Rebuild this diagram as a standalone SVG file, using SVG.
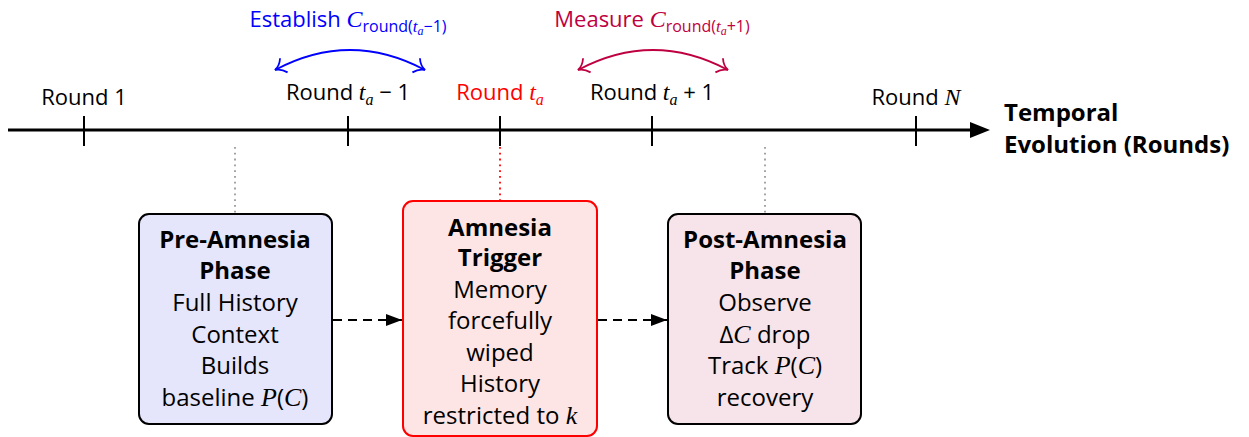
<svg xmlns="http://www.w3.org/2000/svg" width="1249" height="437" viewBox="0 0 1249 437">
  <style>
    text { font-family: "Open Sans", "Noto Sans", sans-serif; font-size: 22px; fill: #000; }
    .box text { font-size: 24px; }
    .c { text-anchor: middle; }
    .b { font-weight: bold; }
    .title { font-size: 24px; font-weight: bold; }
    .m { font-family: "Liberation Serif", serif; font-style: italic; font-size: 24px; }
    .box .m { font-size: 26px; }
    .sub { font-size: 16px; }
    .axis { stroke: #000; stroke-width: 3; fill: none; }
    .tick { stroke: #000; stroke-width: 2; }
    .dot { stroke: #999; stroke-width: 1.8; stroke-dasharray: 1.8 4; }
    .flow { stroke: #000; stroke-width: 2; stroke-dasharray: 9 6; fill: none; }
  </style>
  <defs>
    <marker id="axhead" markerWidth="20" markerHeight="16" refX="0" refY="8" orient="auto" markerUnits="userSpaceOnUse">
      <path d="M0,0 L20,8 L0,16 Z" fill="#000"/>
    </marker>
    <marker id="flowhead" markerWidth="16" markerHeight="12" refX="16" refY="6" orient="auto" markerUnits="userSpaceOnUse">
      <path d="M0,0 L16,6 L0,12 Z" fill="#000"/>
    </marker>
    <marker id="hookB" markerWidth="14" markerHeight="18" refX="11" refY="9" orient="auto" markerUnits="userSpaceOnUse">
      <path d="M1,1 Q5,7.5 11,9 Q5,10.5 1,17" fill="none" stroke="#0000ff" stroke-width="1.8"/>
    </marker>
    <marker id="hookBs" markerWidth="14" markerHeight="18" refX="11" refY="9" orient="auto-start-reverse" markerUnits="userSpaceOnUse">
      <path d="M1,1 Q5,7.5 11,9 Q5,10.5 1,17" fill="none" stroke="#0000ff" stroke-width="1.8"/>
    </marker>
    <marker id="hookP" markerWidth="14" markerHeight="18" refX="11" refY="9" orient="auto" markerUnits="userSpaceOnUse">
      <path d="M1,1 Q5,7.5 11,9 Q5,10.5 1,17" fill="none" stroke="#bf0040" stroke-width="1.8"/>
    </marker>
    <marker id="hookPs" markerWidth="14" markerHeight="18" refX="11" refY="9" orient="auto-start-reverse" markerUnits="userSpaceOnUse">
      <path d="M1,1 Q5,7.5 11,9 Q5,10.5 1,17" fill="none" stroke="#bf0040" stroke-width="1.8"/>
    </marker>
  </defs>

  <!-- time axis -->
  <g id="timeline">
    <line class="axis" x1="8" y1="130" x2="970" y2="130" marker-end="url(#axhead)"/>
    <line class="tick" x1="84" y1="116" x2="84" y2="146"/>
    <line class="tick" x1="348" y1="116" x2="348" y2="146"/>
    <line class="tick" x1="500" y1="116" x2="500" y2="146"/>
    <line class="tick" x1="652" y1="116" x2="652" y2="146"/>
    <line class="tick" x1="916" y1="116" x2="916" y2="146"/>
    <text class="c" x="84" y="105">Round 1</text>
    <text class="c" x="348" y="100">Round <tspan class="m">t</tspan><tspan class="m sub" dy="5">a</tspan><tspan dy="-5"> − 1</tspan></text>
    <text class="c" x="500" y="100" style="fill:#ff0000">Round <tspan class="m" style="fill:#ff0000">t</tspan><tspan class="m sub" dy="5" style="fill:#ff0000">a</tspan></text>
    <text class="c" x="652" y="100">Round <tspan class="m">t</tspan><tspan class="m sub" dy="5">a</tspan><tspan dy="-5"> + 1</tspan></text>
    <text class="c" x="916" y="105">Round <tspan class="m">N</tspan></text>
    <text class="title" x="1004" y="121">Temporal</text>
    <text class="title" x="1004" y="153">Evolution (Rounds)</text>
  </g>

  <!-- window annotations above the axis -->
  <g id="window-before">
    <path d="M275,70 Q350,30 425,70" fill="none" stroke="#0000ff" stroke-width="1.8" marker-start="url(#hookBs)" marker-end="url(#hookB)"/>
    <text class="c" x="348" y="27" style="fill:#0000ff">Establish <tspan class="m" style="fill:#0000ff">C</tspan><tspan class="sub" dy="5" style="fill:#0000ff">round(<tspan class="m" style="font-size:17px">t</tspan><tspan class="m" style="font-size:12px" dy="3">a</tspan><tspan dy="-3">−1)</tspan></tspan></text>
  </g>
  <g id="window-after">
    <path d="M578,70 Q653,30 728,70" fill="none" stroke="#bf0040" stroke-width="1.8" marker-start="url(#hookPs)" marker-end="url(#hookP)"/>
    <text class="c" x="652" y="27" style="fill:#bf0040">Measure <tspan class="m" style="fill:#bf0040">C</tspan><tspan class="sub" dy="5" style="fill:#bf0040">round(<tspan class="m" style="font-size:17px">t</tspan><tspan class="m" style="font-size:12px" dy="3">a</tspan><tspan dy="-3">+1)</tspan></tspan></text>
  </g>

  <!-- connectors -->
  <g id="connectors">
    <line class="dot" x1="235" y1="147" x2="235" y2="213"/>
    <line class="dot" x1="500" y1="147" x2="500" y2="200" style="stroke:#ff0000"/>
    <line class="dot" x1="765" y1="147" x2="765" y2="213"/>
    <line class="flow" x1="333" y1="320" x2="402" y2="320" marker-end="url(#flowhead)"/>
    <line class="flow" x1="598" y1="320" x2="667" y2="320" marker-end="url(#flowhead)"/>
  </g>

  <!-- phase boxes -->
  <g id="pre-amnesia" class="box">
    <rect x="139" y="214" width="193" height="210" rx="10" fill="#e5e5fb" stroke="#000" stroke-width="2"/>
    <text class="c b" x="235" y="248">Pre-Amnesia</text>
    <text class="c b" x="235" y="279">Phase</text>
    <text class="c" x="235" y="311">Full History</text>
    <text class="c" x="235" y="343">Context</text>
    <text class="c" x="235" y="374">Builds</text>
    <text class="c" x="235" y="406">baseline <tspan class="m">P</tspan>(<tspan class="m">C</tspan>)</text>
  </g>
  <g id="amnesia-trigger" class="box">
    <rect x="403" y="201" width="194" height="235" rx="10" fill="#fde5e5" stroke="#ff0000" stroke-width="2"/>
    <text class="c b" x="500" y="236">Amnesia</text>
    <text class="c b" x="500" y="266">Trigger</text>
    <text class="c" x="500" y="298">Memory</text>
    <text class="c" x="500" y="329">forcefully</text>
    <text class="c" x="500" y="361">wiped</text>
    <text class="c" x="500" y="392">History</text>
    <text class="c" x="500" y="424">restricted to <tspan class="m">k</tspan></text>
  </g>
  <g id="post-amnesia" class="box">
    <rect x="668" y="214" width="193" height="210" rx="10" fill="#f7e4ea" stroke="#000" stroke-width="2"/>
    <text class="c b" x="765" y="248">Post-Amnesia</text>
    <text class="c b" x="765" y="279">Phase</text>
    <text class="c" x="765" y="311">Observe</text>
    <text class="c" x="765" y="343">Δ<tspan class="m">C</tspan> drop</text>
    <text class="c" x="765" y="374">Track <tspan class="m">P</tspan>(<tspan class="m">C</tspan>)</text>
    <text class="c" x="765" y="406">recovery</text>
  </g>
</svg>
